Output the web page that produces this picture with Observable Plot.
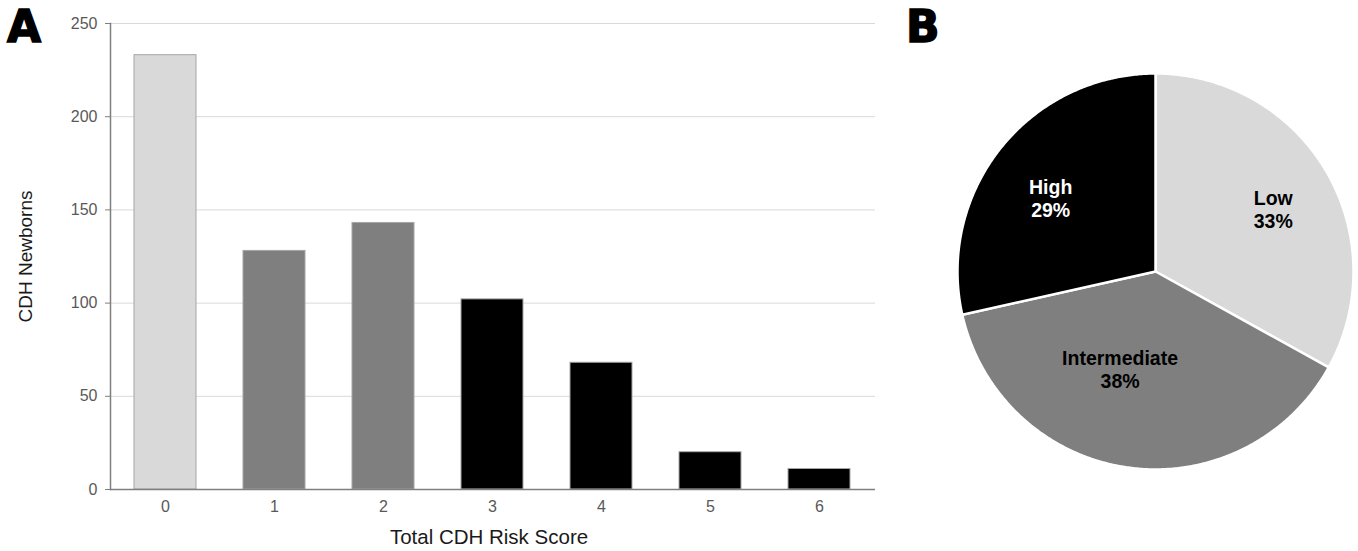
<!DOCTYPE html>
<html>
<head>
<meta charset="utf-8">
<script src="https://cdn.jsdelivr.net/npm/d3@7"></script>
<script src="https://cdn.jsdelivr.net/npm/@observablehq/plot@0.6"></script>
<style>
  html, body { margin: 0; padding: 0; background: #fff; }
  #wrap { position: relative; width: 1358px; height: 551px; overflow: hidden; font-family: "Liberation Sans", Arial, sans-serif; }
  #bars { position: absolute; left: 0; top: 0; }
  #pie { position: absolute; left: 900px; top: 0; }
  .panel { position: absolute; font-family: "DejaVu Sans", sans-serif; font-weight: 900; font-size: 44px; line-height: 1; color: #000; -webkit-text-stroke: 1.5px #000; }
</style>
</head>
<body>
<div id="wrap">
  <div id="bars"></div>
  <div id="pie"></div>
  <div class="panel" style="left:7px;top:5px">A</div>
  <div class="panel" style="left:906px;top:5px">B</div>
</div>
<script>
// ---- data ----
const scores = ["0", "1", "2", "3", "4", "5", "6"];
const newborns = [233, 128, 143, 102, 68, 20, 11];
const scoreGroup = ["Low", "Intermediate", "Intermediate", "High", "High", "High", "High"];
const groups = ["Low", "Intermediate", "High"];
const yTicks = [0, 50, 100, 150, 200, 250];
const xTitle = "Total CDH Risk Score";
const yTitle = "CDH Newborns";

// ---- bar table ----
const barData = scores.map((s, i) => ({score: s, n: newborns[i], group: scoreGroup[i]}));

const fill = {domain: groups, range: ["#d9d9d9", "#7f7f7f", "#000000"]};

const bars = Plot.plot({
  width: 900,
  height: 551,
  marginLeft: 110,
  marginRight: 25,
  marginTop: 23,
  marginBottom: 62,
  style: {fontFamily: '"Liberation Sans", Arial, sans-serif', fontSize: "16px", background: "white", overflow: "visible"},
  x: {domain: scores, paddingInner: 0.43, paddingOuter: 0.215, label: null},
  y: {domain: [0, 250], label: null},
  color: fill,
  marks: [
    Plot.gridY(yTicks, {stroke: "#d9d9d9", strokeOpacity: 1, strokeWidth: 1}),
    Plot.barY(barData, {x: "score", y: "n", fill: "group", stroke: "#a6a6a6", strokeWidth: 1}),
    Plot.ruleY([0], {stroke: "#7f7f7f", strokeWidth: 1.5}),
    Plot.frame({anchor: "left", stroke: "#7f7f7f", strokeWidth: 1.5}),
    Plot.axisY(yTicks, {tickSize: 5, tickPadding: 8, stroke: "#7f7f7f", fill: "#595959", label: null, fontSize: 16}),
    Plot.axisX({tickSize: 0, tickPadding: 11, fill: "#595959", label: null, fontSize: 16}),
    Plot.text([yTitle], {text: d => d, frameAnchor: "left", dx: -85, rotate: -90, textAnchor: "middle", lineAnchor: "middle", fontSize: 19, fill: "#1a1a1a"}),
    Plot.text([xTitle], {text: d => d, frameAnchor: "bottom", dx: -4, dy: 48, textAnchor: "middle", lineAnchor: "middle", fontSize: 20.5, fill: "#1a1a1a"})
  ]
});
document.getElementById("bars").append(bars);

// ---- pie ----
const groupTotals = groups.map(g => d3.sum(barData.filter(d => d.group === g), d => d.n));
const total = d3.sum(groupTotals);
const arcs = d3.pie().sort(null).value(d => d)(groupTotals);

const slicePoints = [];
arcs.forEach((a, i) => {
  slicePoints.push({group: groups[i], x: 0, y: 0});
  const steps = Math.ceil((a.endAngle - a.startAngle) / (Math.PI / 360));
  for (let k = 0; k <= steps; k++) {
    const t = a.startAngle + (a.endAngle - a.startAngle) * k / steps;
    slicePoints.push({group: groups[i], x: Math.sin(t), y: Math.cos(t)});
  }
});

const labelR = 0.62;
const labels = arcs.map((a, i) => {
  const m = (a.startAngle + a.endAngle) / 2;
  return {
    group: groups[i],
    x: Math.sin(m) * labelR,
    y: Math.cos(m) * labelR,
    text: `${groups[i]}\n${Math.round(groupTotals[i] / total * 100)}%`
  };
});

// label nudges (styling offsets, in pixels) to mimic the original label placement
const labelStyle = {x: "x", y: "y", text: "text", fontSize: 19.5, fontWeight: "bold", lineHeight: 1.2};

const pie = Plot.plot({
  width: 458,
  height: 551,
  marginLeft: 57,
  marginRight: 5,
  marginTop: 73,
  marginBottom: 82,
  style: {fontFamily: '"Liberation Sans", Arial, sans-serif', background: "white", overflow: "visible"},
  x: {domain: [-1, 1], axis: null},
  y: {domain: [-1, 1], axis: null},
  color: fill,
  marks: [
    Plot.line(slicePoints, {x: "x", y: "y", z: "group", fill: "group", stroke: "white", strokeWidth: 2.5, curve: "linear-closed", strokeLinejoin: "round"}),
    Plot.text(labels, {...labelStyle, filter: d => d.group === "Low", fill: "#000", dx: 12, dy: 0}),
    Plot.text(labels, {...labelStyle, filter: d => d.group === "Intermediate", fill: "#000", dx: -18, dy: -24}),
    Plot.text(labels, {...labelStyle, filter: d => d.group === "High", fill: "#fff", dx: -9, dy: 3})
  ]
});
document.getElementById("pie").append(pie);
</script>
</body>
</html>
